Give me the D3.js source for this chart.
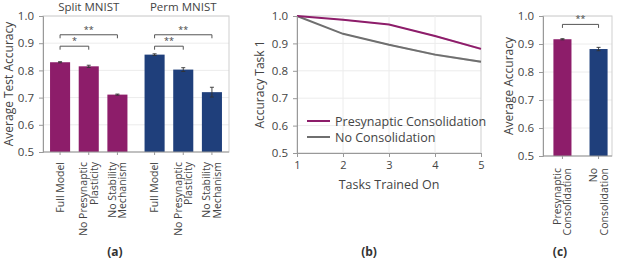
<!DOCTYPE html>
<html><head><meta charset="utf-8">
<script src="https://cdn.jsdelivr.net/npm/d3@7"></script>
<style>
body{margin:0;background:#fff;}
svg{font-family:"Open Sans",sans-serif;}
</style></head>
<body><svg id="c" width="617" height="259"></svg>
<script>
// ---------- data ----------
const groups = ["Split MNIST", "Perm MNIST"];
const conditions = ["Full Model", "No Presynaptic|Plasticity", "No Stability|Mechanism"];
const splitValues = [0.830, 0.815, 0.711];
const splitErrors = [0.002, 0.004, 0.002];
const permValues = [0.858, 0.803, 0.720];
const permErrors = [0.003, 0.007, 0.018];
const splitSig = [{a:0,b:1,label:"*",level:0.889},{a:0,b:2,label:"**",level:0.931}];
const permSig = [{a:0,b:1,label:"**",level:0.889},{a:0,b:2,label:"**",level:0.931}];

const tasks = [1, 2, 3, 4, 5];
const presynaptic = [1.0, 0.986, 0.969, 0.927, 0.880];
const presynapticErr = [0, 0.002, 0.002, 0.003, 0.004];
const noConsolidation = [1.0, 0.935, 0.895, 0.859, 0.833];
const noConsolidationErr = [0, 0.002, 0.003, 0.004, 0.004];

const avgCategories = ["Presynaptic|Consolidation", "No|Consolidation"];
const avgValues = [0.917, 0.882];
const avgErrors = [0.002, 0.006];
const avgSig = [{a:0,b:1,label:"**",level:0.970}];

const yTicks = [0.5, 0.6, 0.7, 0.8, 0.9, 1.0];
const xTicksB = [1, 2, 3, 4, 5];

// ---------- style ----------
const MAG = "#8d1d6a", BLUE = "#1f3f7b", GRAYLINE = "#6f6f6f";
const TXT = "#444", GRID = "#ececec", FRAME = "#cfcfcf", AX = "#999";
const svg = d3.select("#c");
const fmt = d3.format(".1f");

function frame(x0, x1, y) {
  const g = svg.append("g");
  g.selectAll("line.g").data(yTicks.slice(1)).join("line")
    .attr("x1", x0).attr("x2", x1).attr("y1", d => y(d)).attr("y2", d => y(d))
    .attr("stroke", GRID).attr("stroke-width", 1);
  g.append("rect").attr("x", x0).attr("y", y(1)).attr("width", x1 - x0).attr("height", y(0.5) - y(1))
    .attr("fill", "none").attr("stroke", FRAME).attr("stroke-width", 1);
  return g;
}
function yAxis(x0, y, labelX, label) {
  const ax = svg.append("g").attr("transform", `translate(${x0},0)`)
    .call(d3.axisLeft(y).tickValues(yTicks).tickFormat(fmt).tickSize(4).tickPadding(5));
  ax.select(".domain").attr("stroke", AX);
  ax.selectAll(".tick line").attr("stroke", AX);
  ax.selectAll("text").attr("fill", TXT).style("font-size", "11.5px").style("font-family", "Open Sans");
  svg.append("text").attr("transform", `translate(${labelX},${(y(0.5)+y(1))/2}) rotate(-90)`)
    .attr("text-anchor", "middle").attr("fill", TXT).style("font-size", "12px").text(label);
}
function bottomLine(x0, x1, yb) {
  svg.append("line").attr("x1", x0).attr("x2", x1).attr("y1", yb).attr("y2", yb).attr("stroke", AX);
}
function rotLabel(cx, ytop, txt) {
  const lines = txt.split("|");
  const lh = 10.5;
  lines.forEach((l, i) => {
    const dx = (i - (lines.length - 1) / 2) * lh + 3.8;
    svg.append("text").attr("transform", `translate(${cx + dx},${ytop}) rotate(-90)`)
      .attr("text-anchor", "end").attr("fill", TXT).style("font-size", "10.5px").text(l);
  });
}
function errBar(cx, y, v, e) {
  const g = svg.append("g").attr("stroke", "#333").attr("stroke-width", 0.9);
  g.append("line").attr("x1", cx).attr("x2", cx).attr("y1", y(v - e)).attr("y2", y(v + e));
  g.append("line").attr("x1", cx - 2).attr("x2", cx + 2).attr("y1", y(v + e)).attr("y2", y(v + e));
  g.append("line").attr("x1", cx - 2).attr("x2", cx + 2).attr("y1", y(v - e)).attr("y2", y(v - e));
}
function sig(xa, xb, yy, label) {
  svg.append("path").attr("d", `M${xa},${yy+3.5}V${yy}H${xb}V${yy+3.5}`)
    .attr("fill", "none").attr("stroke", "#555").attr("stroke-width", 1);
  svg.append("text").attr("x", (xa + xb) / 2).attr("y", yy - 2).attr("text-anchor", "middle")
    .attr("fill", TXT).style("font-size", "9px").text(label);
}

// ---------- panel (a) ----------
{
  const x0 = 43, x1 = 229;
  const y = d3.scaleLinear().domain([0.5, 1]).range([152, 16]);
  const gx = d3.scaleBand().domain(groups).range([x0, x1]).paddingInner(0.181).paddingOuter(0.0745);
  const ix = d3.scaleBand().domain(conditions).range([0, gx.bandwidth()]).paddingInner(0.3).paddingOuter(0);
  frame(x0, x1, y);
  const series = [
    {g: groups[0], vals: splitValues, errs: splitErrors, sig: splitSig, color: MAG},
    {g: groups[1], vals: permValues, errs: permErrors, sig: permSig, color: BLUE}
  ];
  series.forEach(s => {
    const base = gx(s.g);
    svg.append("g").selectAll("rect").data(conditions).join("rect")
      .attr("x", d => base + ix(d)).attr("width", ix.bandwidth())
      .attr("y", (d, i) => y(s.vals[i])).attr("height", (d, i) => y(0.5) - y(s.vals[i]))
      .attr("fill", s.color);
    conditions.forEach((c, i) => {
      const cx = base + ix(c) + ix.bandwidth() / 2;
      errBar(cx, y, s.vals[i], s.errs[i]);
      svg.append("line").attr("x1", cx).attr("x2", cx).attr("y1", y(0.5)).attr("y2", y(0.5) + 3).attr("stroke", AX);
      rotLabel(cx, 162, c);
    });
    s.sig.forEach(k => {
      const xa = base + ix(conditions[k.a]) + ix.bandwidth() / 2;
      const xb = base + ix(conditions[k.b]) + ix.bandwidth() / 2;
      sig(xa, xb, y(k.level), k.label);
    });
    svg.append("text").attr("x", base + gx.bandwidth() / 2).attr("y", 11).attr("text-anchor", "middle")
      .attr("fill", TXT).style("font-size", "11.5px").text(s.g);
  });
  yAxis(x0, y, 12.5, "Average Test Accuracy");
  bottomLine(x0, x1, y(0.5));
  svg.append("text").attr("x", 115).attr("y", 256).attr("text-anchor", "middle")
    .attr("fill", "#333").style("font-size", "12px").style("font-weight", "bold").text("(a)");
}

// ---------- panel (b) ----------
{
  const x = d3.scaleLinear().domain([1, 5]).range([297, 481]);
  const y = d3.scaleLinear().domain([0.5, 1]).range([153, 16]);
  const g = frame(297, 481, y);
  g.selectAll("line.v").data(xTicksB.slice(1, -1)).join("line")
    .attr("x1", d => x(d)).attr("x2", d => x(d)).attr("y1", y(1)).attr("y2", y(0.5))
    .attr("stroke", GRID);
  const lines = [
    {vals: noConsolidation, errs: noConsolidationErr, color: GRAYLINE, band: "#bbbbbb"},
    {vals: presynaptic, errs: presynapticErr, color: MAG, band: "#d9a8c9"}
  ];
  lines.forEach(L => {
    const pts = tasks.map((t, i) => ({t, v: L.vals[i], e: L.errs[i]}));
    svg.append("path").datum(pts)
      .attr("d", d3.area().x(d => x(d.t)).y0(d => y(d.v - d.e)).y1(d => y(d.v + d.e)))
      .attr("fill", L.band).attr("opacity", 0.7);
    svg.append("path").datum(pts)
      .attr("d", d3.line().x(d => x(d.t)).y(d => y(d.v)))
      .attr("fill", "none").attr("stroke", L.color).attr("stroke-width", 2);
  });
  const xa = svg.append("g").attr("transform", `translate(0,${y(0.5)})`)
    .call(d3.axisBottom(x).tickValues(xTicksB).tickFormat(d3.format("d")).tickSize(4).tickPadding(4));
  xa.select(".domain").attr("stroke", AX);
  xa.selectAll(".tick line").attr("stroke", AX);
  xa.selectAll("text").attr("fill", TXT).style("font-size", "11px").style("font-family", "Open Sans");
  yAxis(297, y, 264, "Accuracy Task 1");
  svg.append("text").attr("x", 389).attr("y", 189).attr("text-anchor", "middle")
    .attr("fill", TXT).style("font-size", "12.5px").text("Tasks Trained On");
  const leg = [{name: "Presynaptic Consolidation", color: MAG}, {name: "No Consolidation", color: GRAYLINE}];
  leg.forEach((l, i) => {
    const ly = 121 + i * 16;
    svg.append("line").attr("x1", 307).attr("x2", 330).attr("y1", ly).attr("y2", ly)
      .attr("stroke", l.color).attr("stroke-width", 2);
    svg.append("text").attr("x", 335).attr("y", ly + 4.5).attr("fill", TXT)
      .style("font-size", "12.5px").text(l.name);
  });
  svg.append("text").attr("x", 369).attr("y", 256).attr("text-anchor", "middle")
    .attr("fill", "#333").style("font-size", "12px").style("font-weight", "bold").text("(b)");
}

// ---------- panel (c) ----------
{
  const x0 = 543, x1 = 612;
  const y = d3.scaleLinear().domain([0.5, 1]).range([156, 16]);
  const x = d3.scaleBand().domain(avgCategories).range([548, 613]).paddingInner(0.5).paddingOuter(0.15);
  frame(x0, x1, y);
  const colors = [MAG, BLUE];
  svg.append("g").selectAll("rect").data(avgCategories).join("rect")
    .attr("x", d => x(d)).attr("width", x.bandwidth())
    .attr("y", (d, i) => y(avgValues[i])).attr("height", (d, i) => y(0.5) - y(avgValues[i]))
    .attr("fill", (d, i) => colors[i]);
  avgCategories.forEach((c, i) => {
    const cx = x(c) + x.bandwidth() / 2;
    errBar(cx, y, avgValues[i], avgErrors[i]);
    svg.append("line").attr("x1", cx).attr("x2", cx).attr("y1", y(0.5)).attr("y2", y(0.5) + 3).attr("stroke", AX);
    rotLabel(cx, 168, c);
  });
  avgSig.forEach(k => {
    const xa = x(avgCategories[k.a]) + x.bandwidth() / 2;
    const xb = x(avgCategories[k.b]) + x.bandwidth() / 2;
    sig(xa, xb, y(k.level), k.label);
  });
  yAxis(x0, y, 513, "Average Accuracy");
  bottomLine(x0, x1, y(0.5));
  svg.append("text").attr("x", 560).attr("y", 256).attr("text-anchor", "middle")
    .attr("fill", "#333").style("font-size", "12px").style("font-weight", "bold").text("(c)");
}
</script></body></html>
